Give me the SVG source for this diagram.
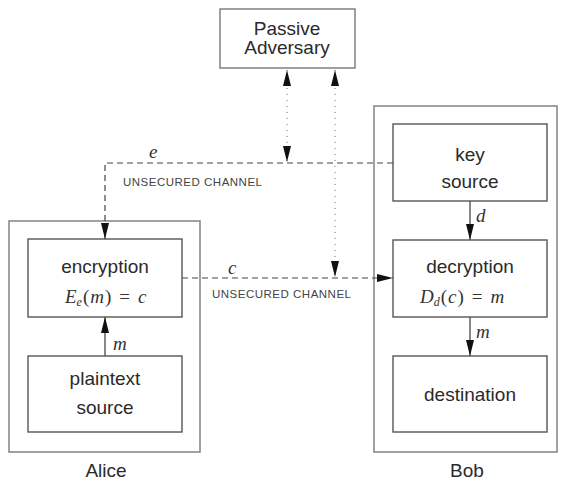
<svg xmlns="http://www.w3.org/2000/svg" width="561" height="482" viewBox="0 0 561 482">
<defs>
<marker id="ah" viewBox="0 0 16 8" refX="16" refY="4" markerWidth="16" markerHeight="8" markerUnits="userSpaceOnUse" orient="auto-start-reverse">
<path d="M0,0 L16,4 L0,8 z" fill="#111"/>
</marker>
<style>
.outer{fill:none;stroke:#8a8a8a;stroke-width:1.6}
.box{fill:#fff;stroke:#555;stroke-width:1.4}
.t{font-family:"Liberation Sans",Arial,sans-serif;font-size:19px;fill:#2a2a2a;text-anchor:middle}
.m{font-family:"Liberation Serif","Times New Roman",serif;font-style:italic;font-size:19px;fill:#333}
.n{font-style:normal}
.small{font-family:"Liberation Sans",Arial,sans-serif;font-size:11.5px;fill:#444;letter-spacing:0.5px}
.solid{fill:none;stroke:#555;stroke-width:1.4}
.dash{fill:none;stroke:#444;stroke-width:1.2;stroke-dasharray:6,4}
.dot{fill:none;stroke:#888;stroke-width:1.2;stroke-dasharray:1,5}
</style>
</defs>
<rect width="561" height="482" fill="#fff"/>
<g id="alice">
<rect class="outer" x="9" y="221" width="191" height="231"/>
<text class="t" x="106" y="477">Alice</text>
</g>
<g id="bob">
<rect class="outer" x="374" y="106" width="183" height="346"/>
<text class="t" x="467" y="477">Bob</text>
</g>
<g id="connectors">
<path class="dash" d="M393,163 H105 V239" marker-end="url(#ah)"/>
<path class="dash" d="M182,278 H393" marker-end="url(#ah)"/>
<path class="dot" d="M287,70 V162" marker-start="url(#ah)" marker-end="url(#ah)"/>
<path class="dot" d="M335,70 V277" marker-start="url(#ah)" marker-end="url(#ah)"/>
<path class="solid" d="M105,356 V317" marker-end="url(#ah)"/>
<path class="solid" d="M470,201 V240" marker-end="url(#ah)"/>
<path class="solid" d="M470,317 V356" marker-end="url(#ah)"/>
<text class="m" x="149" y="158">e</text>
<text class="small" x="123" y="186">UNSECURED CHANNEL</text>
<text class="m" x="228" y="274">c</text>
<text class="small" x="212" y="298">UNSECURED CHANNEL</text>
<text class="m" x="476" y="222">d</text>
<text class="m" x="476" y="338">m</text>
<text class="m" x="113" y="350">m</text>
</g>
<g id="adversary">
<rect class="box" x="220" y="9" width="135" height="59" style="stroke:#777"/>
<text class="t" x="287" y="35">Passive</text>
<text class="t" x="287" y="54">Adversary</text>
</g>
<g id="encryption">
<rect class="box" x="28" y="239" width="154" height="78"/>
<text class="t" x="105" y="273">encryption</text>
<text class="m" x="65" y="303" font-size="20">E<tspan font-size="12" dy="3">e</tspan><tspan class="n" dy="-3" dx="1">(</tspan><tspan dx="1">m</tspan><tspan class="n" dx="1">)</tspan><tspan class="n" dx="8">=</tspan><tspan dx="8">c</tspan></text>
</g>
<g id="plaintext">
<rect class="box" x="28" y="356" width="154" height="76"/>
<text class="t" x="105" y="385">plaintext</text>
<text class="t" x="105" y="414">source</text>
</g>
<g id="keysource">
<rect class="box" x="393" y="124" width="154" height="77"/>
<text class="t" x="470" y="161">key</text>
<text class="t" x="470" y="188">source</text>
</g>
<g id="decryption">
<rect class="box" x="393" y="240" width="154" height="77"/>
<text class="t" x="470" y="273">decryption</text>
<text class="m" x="420" y="303" font-size="20">D<tspan font-size="12" dy="3">d</tspan><tspan class="n" dy="-3" dx="1">(</tspan><tspan dx="1">c</tspan><tspan class="n" dx="1">)</tspan><tspan class="n" dx="8">=</tspan><tspan dx="8">m</tspan></text>
</g>
<g id="destination">
<rect class="box" x="393" y="356" width="154" height="76"/>
<text class="t" x="470" y="401">destination</text>
</g>
</svg>
